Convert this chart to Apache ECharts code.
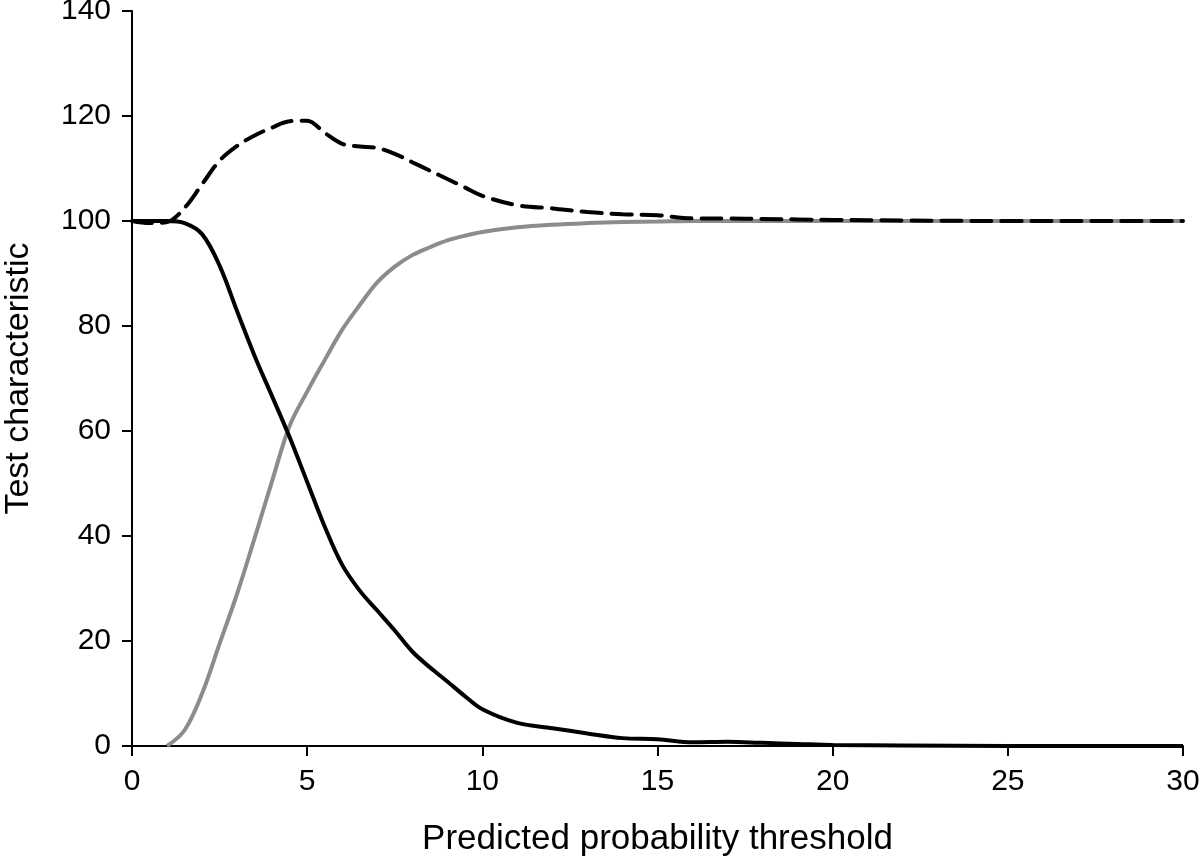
<!DOCTYPE html>
<html>
<head>
<meta charset="utf-8">
<script src="https://cdn.jsdelivr.net/npm/echarts@6/dist/echarts.min.js"></script>
<style>
html,body{margin:0;padding:0;background:#fff;}
#chart{width:1200px;height:858px;}
</style>
</head>
<body>
<div id="chart"></div>
<script>
// Predicted probability threshold (x)
var thresholds = [0, 0.5, 1, 1.5, 2, 2.5, 3, 3.5, 4, 4.5, 5, 5.5, 6, 6.5, 7, 7.5, 8, 8.5, 9, 9.5, 10, 11, 12, 13, 14, 15, 16, 17, 18, 19, 20, 22, 25, 28, 30];
// Black solid line
var sensitivity = [100, 100, 100, 99.6, 97.5, 91.5, 82.8, 74.3, 66.6, 58.8, 50.3, 41.8, 34.5, 29.6, 25.8, 22, 18, 15, 12.3, 9.5, 7, 4.4, 3.4, 2.4, 1.5, 1.3, 0.7, 0.8, 0.6, 0.4, 0.2, 0.1, 0, 0, 0];
// Grey solid line
var specificity = [null, null, 0, 3, 10, 19.5, 29, 39.6, 50.5, 61, 67.5, 73.5, 79.3, 84, 88.3, 91.3, 93.5, 95, 96.3, 97.2, 97.9, 98.8, 99.3, 99.6, 99.8, 99.9, 100, 100, 100, 100, 100, 100, 100, 100, 100];
// Black dashed line
var combined = [100, 99.6, 99.8, 102.5, 107, 111.5, 114.3, 116.3, 117.8, 119, 119.1, 116.8, 114.7, 114.2, 113.9, 112.8, 111.2, 109.6, 108, 106.4, 104.8, 103, 102.4, 101.7, 101.3, 101.1, 100.5, 100.5, 100.4, 100.3, 100.2, 100.1, 100, 100, 100];

var xTicks = [0, 5, 10, 15, 20, 25, 30];
var yTicks = [0, 20, 40, 60, 80, 100, 120, 140];

function pairs(ys) {
  var out = [];
  for (var i = 0; i < thresholds.length; i++) {
    if (ys[i] !== null) out.push([thresholds[i], ys[i]]);
  }
  return out;
}

var FONT = "'Liberation Sans', Arial, sans-serif";
var chart = echarts.init(document.getElementById('chart'), null, {renderer: 'canvas'});
chart.setOption({
  animation: false,
  backgroundColor: '#fff',
  grid: {left: 132, right: 17, top: 11, bottom: 112, containLabel: false, outerBoundsMode: 'none'},
  xAxis: {
    type: 'value', min: 0, max: 30, interval: 5,
    name: 'Predicted probability threshold',
    nameLocation: 'middle', nameGap: 76,
    nameTextStyle: {fontFamily: FONT, fontSize: 35, color: '#000'},
    axisLine: {lineStyle: {color: '#000', width: 2}},
    axisTick: {show: true, length: 10, lineStyle: {color: '#000', width: 2}},
    axisLabel: {fontFamily: FONT, fontSize: 30, color: '#000', margin: 21},
    splitLine: {show: false}
  },
  yAxis: {
    type: 'value', min: 0, max: 140, interval: 20,
    name: 'Test characteristic',
    nameLocation: 'middle', nameGap: 96, nameRotate: 90,
    nameTextStyle: {fontFamily: FONT, fontSize: 34, color: '#000'},
    axisLine: {show: true, lineStyle: {color: '#000', width: 2}},
    axisTick: {show: true, length: 10, lineStyle: {color: '#000', width: 2}},
    axisLabel: {fontFamily: FONT, fontSize: 30, color: '#000', margin: 21},
    splitLine: {show: false}
  },
  series: [
    {
      type: 'line', name: 'Specificity', data: pairs(specificity),
      showSymbol: false, smooth: 0.35,
      lineStyle: {color: '#8c8c8c', width: 4}, z: 2
    },
    {
      type: 'line', name: 'Sensitivity', data: pairs(sensitivity),
      showSymbol: false, smooth: 0.35,
      lineStyle: {color: '#000', width: 4}, z: 3
    },
    {
      type: 'line', name: 'Sum', data: pairs(combined),
      showSymbol: false, smooth: 0.35,
      lineStyle: {color: '#000', width: 4, type: [20, 10], cap: 'round'}, z: 4
    }
  ]
});
</script>
</body>
</html>
